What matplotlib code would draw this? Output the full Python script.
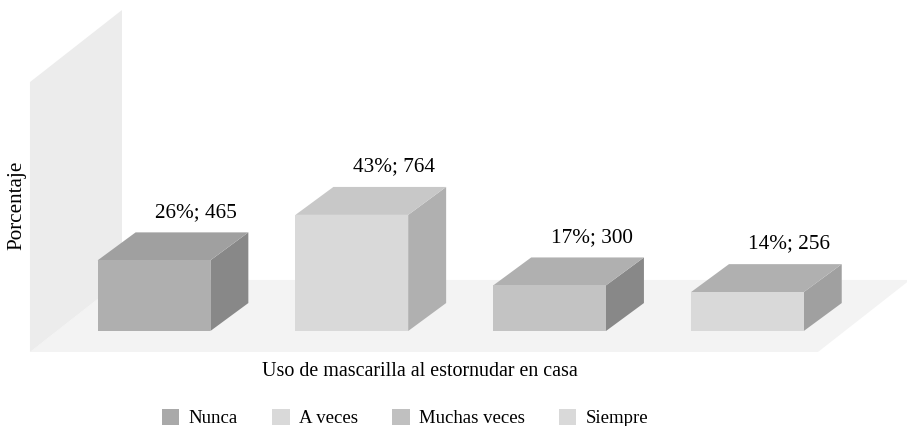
import matplotlib.pyplot as plt
from matplotlib.patches import Polygon, Patch

categories = ["Nunca", "A veces", "Muchas veces", "Siempre"]
counts = [465, 764, 300, 256]
percents = [26, 43, 17, 14]

front_colors = ["#afafaf", "#d9d9d9", "#c3c3c3", "#d9d9d9"]
top_colors = ["#a0a0a0", "#c8c8c8", "#b0b0b0", "#b0b0b0"]
side_colors = ["#888888", "#b0b0b0", "#888888", "#a0a0a0"]
legend_colors = ["#a9a9a9", "#d9d9d9", "#c0c0c0", "#d9d9d9"]

plt.rcParams["font.family"] = ["Liberation Serif", "DejaVu Serif"]

fig = plt.figure(figsize=(9.07, 4.26), dpi=100)
ax = fig.add_axes([0, 0, 1, 1])
ax.set_xlim(-0.7786, 3.807)
ax.set_ylim(-625, 2178)
ax.axis("off")

# depth of the 3d box (in data units)
bdx, bdy = 0.192, 184
fdx, fdy = 0.465, 474
half_w = 0.285

# floor and back wall
x0, x1 = -0.627, 3.357
yf = -138
ax.add_patch(Polygon([(x0, yf), (x1, yf), (x1 + fdx, yf + fdy), (x0 + fdx, yf + fdy)],
                     closed=True, fc="#f3f3f3", ec="none"))
ax.add_patch(Polygon([(x0, yf), (x0, 1638), (x0 + fdx, 1638 + fdy), (x0 + fdx, yf + fdy)],
                     closed=True, fc="#ececec", ec="none"))

for i, v in enumerate(counts):
    l, r = i - half_w, i + half_w
    front = [(l, 0), (r, 0), (r, v), (l, v)]
    top = [(l, v), (r, v), (r + bdx, v + bdy), (l + bdx, v + bdy)]
    side = [(r, 0), (r + bdx, bdy), (r + bdx, v + bdy), (r, v)]
    ax.add_patch(Polygon(side, closed=True, fc=side_colors[i], ec="none"))
    ax.add_patch(Polygon(top, closed=True, fc=top_colors[i], ec="none"))
    ax.add_patch(Polygon(front, closed=True, fc=front_colors[i], ec="none"))
    ax.text(i + 0.212, v + bdy + 132, f"{percents[i]}%; {v}", ha="center", va="center",
            fontsize=15.3, color="black")

fig.text(17 / 907, 1 - 205 / 426, "Porcentaje", rotation=90, ha="center", va="center", fontsize=15.2)
fig.text(420 / 907, 1 - 371 / 426, "Uso de mascarilla al estornudar en casa", ha="center", va="center",
         fontsize=14.4)

handles = [Patch(fc=c, ec="none") for c in legend_colors]
fig.legend(handles, categories, loc="center", bbox_to_anchor=(405 / 907, 1 - 418 / 426), ncol=4,
           frameon=False, fontsize=13.5, handlelength=0.95, handleheight=0.95, columnspacing=1.8,
           handletextpad=0.5, borderpad=0, borderaxespad=0)

fig.savefig("out.png", dpi=100)
